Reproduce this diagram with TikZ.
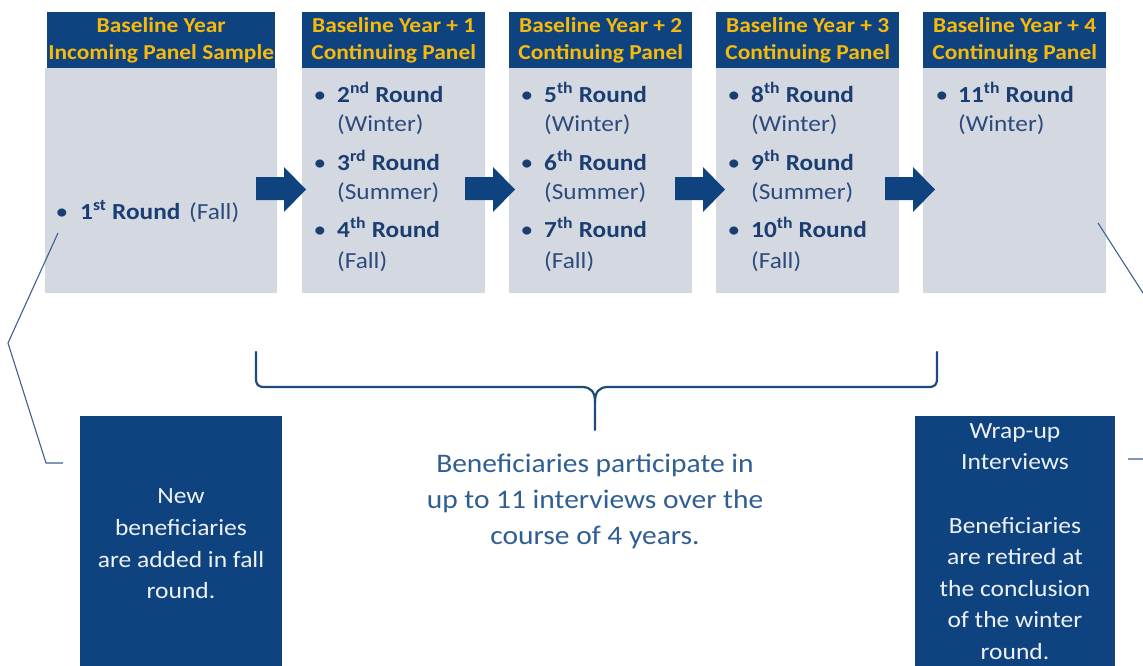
\documentclass[tikz,border=0pt]{standalone}
\usepackage{fontspec}
\setmainfont{Carlito}[FakeStretch=1.1]
\usetikzlibrary{calc}
\definecolor{navy}{HTML}{0E4380}
\definecolor{gold}{HTML}{F7BA0B}
\definecolor{panel}{HTML}{D4D8E1}
\definecolor{roundtxt}{HTML}{1B3E72}
\definecolor{seasontxt}{HTML}{2C4B7C}
\definecolor{midblue}{HTML}{2F5E95}
\definecolor{bracecol}{HTML}{1F4A7A}
\definecolor{callcol}{HTML}{3F5F8F}
\definecolor{boxtxt}{HTML}{EEF1F6}
\begin{document}
\begin{tikzpicture}[x=1pt,y=-1pt,
  head/.style={fill=navy, text=gold, font=\fontsize{21.3}{27}\selectfont\bfseries, align=center, inner sep=0, minimum height=56, anchor=north west},
  body/.style={fill=panel, inner sep=0, minimum height=225, anchor=north west},
  bul/.style={anchor=mid, inner sep=0, yshift=-5pt, text=roundtxt, font=\fontsize{23}{26}\selectfont},
  rnd/.style={anchor=mid west, inner sep=0, yshift=-5pt, text=roundtxt, font=\fontsize{23}{26}\selectfont\bfseries},
  ssn/.style={anchor=mid west, inner sep=0, yshift=-5pt, text=seasontxt, font=\fontsize{23}{26}\selectfont},
  darkbox/.style={fill=navy, inner sep=0, anchor=north west},
  boxtext/.style={text=boxtxt, align=center, inner sep=0, font=\fontsize{23.2}{31.6}\selectfont},
  blockarrow/.style={fill=navy, draw=none},
  brace/.style={draw=bracecol, line width=2.2, line cap=round, line join=round},
  callout/.style={draw=callcol, line width=1.1}
]
\useasboundingbox (0,0) rectangle (1143,666);
\clip (0,0) rectangle (1143,666);

% panel boxes
\node[body, minimum width=232] (b1) at (45,68) {};
\node[head, minimum width=228] (h1) at (47,12) {Baseline Year\\Incoming Panel Sample};
\node[body, minimum width=183] (b2) at (302,68) {};
\node[head, minimum width=183] (h2) at (302,12) {Baseline Year + 1\\Continuing Panel};
\node[body, minimum width=183] (b3) at (509,68) {};
\node[head, minimum width=183] (h3) at (509,12) {Baseline Year + 2\\Continuing Panel};
\node[body, minimum width=183] (b4) at (716,68) {};
\node[head, minimum width=183] (h4) at (716,12) {Baseline Year + 3\\Continuing Panel};
\node[body, minimum width=183] (b5) at (923,68) {};
\node[head, minimum width=183] (h5) at (923,12) {Baseline Year + 4\\Continuing Panel};

% box 1 text
\node[bul] (u1) at (62,212) {•};
\node[rnd] (r1) at (80,212) {1\textsuperscript{st} Round};
\node[ssn] (s1) at (189,212) {(Fall)};

% box 2 text
\node[bul] (u2) at (320,95) {•};
\node[rnd] (r2) at (337,95) {2\textsuperscript{nd} Round};
\node[ssn] (s2) at (337,124) {(Winter)};
\node[bul] (u3) at (320,163) {•};
\node[rnd] (r3) at (337,163) {3\textsuperscript{rd} Round};
\node[ssn] (s3) at (337,192) {(Summer)};
\node[bul] (u4) at (320,230) {•};
\node[rnd] (r4) at (337,230) {4\textsuperscript{th} Round};
\node[ssn] (s4) at (337,261) {(Fall)};

% box 3 text
\node[bul] (u5) at (527,95) {•};
\node[rnd] (r5) at (544,95) {5\textsuperscript{th} Round};
\node[ssn] (s5) at (544,124) {(Winter)};
\node[bul] (u6) at (527,163) {•};
\node[rnd] (r6) at (544,163) {6\textsuperscript{th} Round};
\node[ssn] (s6) at (544,192) {(Summer)};
\node[bul] (u7) at (527,230) {•};
\node[rnd] (r7) at (544,230) {7\textsuperscript{th} Round};
\node[ssn] (s7) at (544,261) {(Fall)};

% box 4 text
\node[bul] (u8) at (734,95) {•};
\node[rnd] (r8) at (751,95) {8\textsuperscript{th} Round};
\node[ssn] (s8) at (751,124) {(Winter)};
\node[bul] (u9) at (734,163) {•};
\node[rnd] (r9) at (751,163) {9\textsuperscript{th} Round};
\node[ssn] (s9) at (751,192) {(Summer)};
\node[bul] (u10) at (734,230) {•};
\node[rnd] (r10) at (751,230) {10\textsuperscript{th} Round};
\node[ssn] (s10) at (751,261) {(Fall)};

% box 5 text
\node[bul] (u11) at (942,95) {•};
\node[rnd] (r11) at (958,95) {11\textsuperscript{th} Round};
\node[ssn] (s11) at (958,124) {(Winter)};

% block arrows
\foreach \xs in {256,465,675,885}{
  \fill[blockarrow] (\xs,177) -- ++(28,0) -- ++(0,-10) -- (\xs+50,189.5) -- (\xs+28,212) -- ++(0,-12) -- (\xs,200) -- cycle;
}

% brace
\draw[brace] (256,352) -- (256,378) .. controls (256,385) and (258,387) .. (265,387) -- (582,387) .. controls (591,387) and (595,392) .. (595,402) -- (595,430);
\draw[brace] (937,352) -- (937,378) .. controls (937,385) and (935,387) .. (928,387) -- (608,387) .. controls (599,387) and (595,392) .. (595,402);

% centre text
\node[text=midblue, align=center, inner sep=0, font=\fontsize{26.8}{36}\selectfont] (mid) at (595,501) {Beneficiaries participate in\\up to 11 interviews over the\\course of 4 years.};

% bottom boxes
\node[darkbox, minimum width=202, minimum height=250] (newbox) at (80,416) {};
\node[boxtext] (newtxt) at (181,544) {New\\beneficiaries\\are added in fall\\round.};
\node[darkbox, minimum width=200, minimum height=250] (wrapbox) at (915,416) {};
\node[boxtext] (wraptxt) at (1015,541.5) {Wrap-up\\Interviews\\\mbox{}\\Beneficiaries\\are retired at\\the conclusion\\of the winter\\round.};

% callout lines
\coordinate (cl1) at (58,233);
\coordinate (cl2) at (63,463);
\draw[callout] (cl1) -- (8,343) -- (46,463) -- (cl2);
\coordinate (cr1) at (1098,223);
\coordinate (cr2) at (1128,459);
\draw[callout] (cr1) -- (1170,335) -- (1160,459) -- (cr2);
\end{tikzpicture}
\end{document}
